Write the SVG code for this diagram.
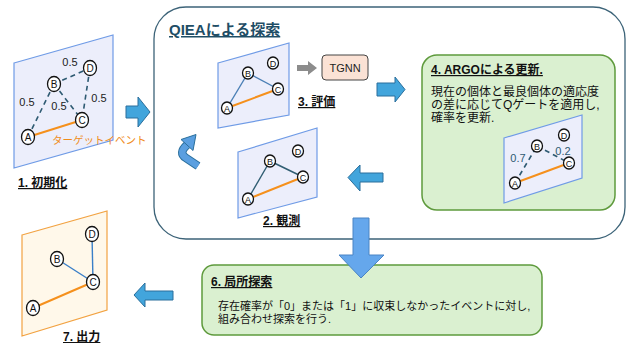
<svg xmlns="http://www.w3.org/2000/svg" width="627" height="343" viewBox="0 0 627 343">
<defs>
<style>
text{font-family:'Liberation Sans','Noto Sans CJK JP',sans-serif;}
.panel{fill:#eceefb;stroke:#6f9be6;stroke-width:1.2;}
.out{fill:#fff8ea;stroke:#f2a241;stroke-width:1.2;}
.nd{fill:#fff;stroke:#111;stroke-width:1.3;}
.nl{font-size:10px;fill:#111;text-anchor:middle;}
.ns{font-size:9px;fill:#111;text-anchor:middle;}
.dash{stroke:#2e5a72;stroke-width:1.6;stroke-dasharray:5 4;fill:none;}
.or{stroke:#f5901c;stroke-width:2;fill:none;}
.wt{font-size:11px;fill:#222;text-anchor:middle;}
.step{font-size:12px;font-weight:bold;fill:#111;text-decoration:underline;}
.body{font-size:12px;fill:#111;}
.arr{fill:#42a5dc;stroke:#2a6f9c;stroke-width:1;}
.gbox{fill:#daf0d0;stroke:#5e9a3c;stroke-width:1.5;}
</style>
</defs>

<g id="qiea-frame">
<rect x="154" y="7" width="471" height="232" rx="32" fill="#fff" stroke="#3c6378" stroke-width="1.3"/>
<text x="169" y="35" font-size="15" font-weight="bold" fill="#1f4e66" text-decoration="underline">QIEAによる探索</text>
</g>

<g id="step1-init">
<polygon class="panel" points="14,63 113,35 113,140 14,168"/>
<line class="dash" x1="28" y1="137" x2="54" y2="84"/>
<line class="dash" x1="54" y1="84" x2="90" y2="68"/>
<line class="dash" x1="54" y1="84" x2="82" y2="120"/>
<line class="dash" x1="90" y1="68" x2="82" y2="120"/>
<line class="or" x1="28" y1="137" x2="82" y2="120" stroke-width="2.2"/>
<ellipse class="nd" cx="28" cy="137" rx="6.5" ry="7.5"/><text class="nl" x="28" y="141">A</text>
<ellipse class="nd" cx="54" cy="84" rx="6.5" ry="7.5"/><text class="nl" x="54" y="88">B</text>
<ellipse class="nd" cx="82" cy="120" rx="6.5" ry="7.5"/><text class="nl" x="82" y="124">C</text>
<ellipse class="nd" cx="90" cy="68" rx="6.5" ry="7.5"/><text class="nl" x="90" y="72">D</text>
<text class="wt" x="70" y="66">0.5</text>
<text class="wt" x="27" y="106">0.5</text>
<text class="wt" x="59" y="110">0.5</text>
<text class="wt" x="99" y="102">0.5</text>
<text x="52" y="144" font-size="10.5" fill="#f08c1a">ターゲットイベント</text>
<text class="step" x="18" y="187">1. 初期化</text>
</g>

<g id="step3-eval">
<polygon class="panel" points="218,63 289,43 289,115 218,128"/>
<line x1="227" y1="108" x2="248" y2="73" stroke="#4a7fb5" stroke-width="1.4"/>
<line x1="248" y1="73" x2="278" y2="89" stroke="#4a7fb5" stroke-width="1.4"/>
<line class="or" x1="227" y1="108" x2="278" y2="89"/>
<ellipse class="nd" cx="227" cy="108" rx="5.5" ry="6"/><text class="ns" x="227" y="111.5">A</text>
<ellipse class="nd" cx="248" cy="73" rx="5.5" ry="6"/><text class="ns" x="248" y="76.5">B</text>
<ellipse class="nd" cx="278" cy="89" rx="5.5" ry="6"/><text class="ns" x="278" y="92.5">C</text>
<ellipse class="nd" cx="273" cy="63" rx="5.5" ry="6"/><text class="ns" x="273" y="66.5">D</text>
<text class="step" x="298" y="106">3. 評価</text>
</g>

<g id="tgnn">
<rect x="322" y="55" width="46" height="25" rx="4" fill="#fbe2d5" stroke="#444" stroke-width="1"/>
<text x="345" y="71.5" font-size="11" fill="#222" text-anchor="middle">TGNN</text>
</g>

<g id="step2-obs">
<polygon class="panel" points="238,152 317,128 317,197 238,218"/>
<line x1="248" y1="199" x2="270" y2="161" stroke="#2f5d72" stroke-width="1.4"/>
<line x1="270" y1="161" x2="303" y2="177" stroke="#2f5d72" stroke-width="1.4"/>
<line class="or" x1="248" y1="199" x2="303" y2="177"/>
<ellipse class="nd" cx="248" cy="199" rx="5.5" ry="6"/><text class="ns" x="248" y="202.5">A</text>
<ellipse class="nd" cx="270" cy="161" rx="5.5" ry="6"/><text class="ns" x="270" y="164.5">B</text>
<ellipse class="nd" cx="303" cy="177" rx="5.5" ry="6"/><text class="ns" x="303" y="180.5">C</text>
<ellipse class="nd" cx="298" cy="151" rx="5.5" ry="6"/><text class="ns" x="298" y="154.5">D</text>
<text class="step" x="263" y="225">2. 観測</text>
</g>

<g id="step4-argo">
<rect class="gbox" x="422" y="55" width="193" height="155" rx="15"/>
<text class="step" x="431" y="74">4. ARGOによる更新.</text>
<text class="body" x="431" y="96">現在の個体と最良個体の適応度</text>
<text class="body" x="431" y="109">の差に応じてQゲートを適用し,</text>
<text class="body" x="431" y="122">確率を更新.</text>
<polygon class="panel" points="504,138 582,115 582,178 504,203"/>
<line class="dash" x1="515" y1="183" x2="537" y2="146"/>
<line class="dash" x1="537" y1="146" x2="569" y2="163"/>
<line class="or" x1="515" y1="183" x2="569" y2="163"/>
<ellipse class="nd" cx="515" cy="183" rx="5.5" ry="6"/><text class="ns" x="515" y="186.5">A</text>
<ellipse class="nd" cx="537" cy="146" rx="5.5" ry="6"/><text class="ns" x="537" y="149.5">B</text>
<ellipse class="nd" cx="569" cy="163" rx="5.5" ry="6"/><text class="ns" x="569" y="166.5">C</text>
<ellipse class="nd" cx="564" cy="135" rx="5.5" ry="6"/><text class="ns" x="564" y="138.5">D</text>
<text x="518" y="162" font-size="11" fill="#2e5a72" text-anchor="middle">0.7</text>
<text x="563" y="155" font-size="11" fill="#2e5a72" text-anchor="middle">0.2</text>
</g>

<g id="step6-local">
<rect class="gbox" x="202" y="265" width="340" height="70" rx="12"/>
<text class="step" x="211" y="286" font-size="13">6. 局所探索</text>
<text x="218" y="310" font-size="11" fill="#111">存在確率が「0」または「1」に収束しなかったイベントに対し,</text>
<text x="218" y="323" font-size="11" fill="#111">組み合わせ探索を行う.</text>
</g>

<g id="step7-output">
<polygon class="out" points="22,235 107,211 107,310 22,336"/>
<line x1="57" y1="259" x2="93" y2="282" stroke="#3a7fc8" stroke-width="1.4"/>
<line x1="92" y1="234" x2="93" y2="282" stroke="#3a7fc8" stroke-width="1.4"/>
<line class="or" x1="33" y1="308" x2="93" y2="282" stroke-width="2.4"/>
<ellipse class="nd" cx="33" cy="308" rx="6.5" ry="7.5"/><text class="nl" x="33" y="312">A</text>
<ellipse class="nd" cx="57" cy="259" rx="6.5" ry="7.5"/><text class="nl" x="57" y="263">B</text>
<ellipse class="nd" cx="93" cy="282" rx="6.5" ry="7.5"/><text class="nl" x="93" y="286">C</text>
<ellipse class="nd" cx="92" cy="234" rx="6.5" ry="7.5"/><text class="nl" x="92" y="238">D</text>
<text class="step" x="63" y="341">7. 出力</text>
</g>

<g id="connectors">
<polygon class="arr" points="126,106 138,106 138,97 150,112 138,127 138,118 126,118"/>
<polygon fill="#8c8c8c" points="297,65 308,65 308,61 317,68 308,75 308,71 297,71"/>
<polygon class="arr" points="377,83 395,83 395,77 405,89.5 395,102 395,96 377,96"/>
<polygon class="arr" points="383,173 360,173 360,165 348,177.5 360,191 360,182 383,182"/>
<polygon class="arr" points="173,291 145,291 145,283 134,295 145,307 145,300 173,300"/>
<polygon fill="#65a7ec" stroke="#4a84c4" stroke-width="1" points="353,218 369,218 369,255 384,255 361,278 339,255 353,255"/>
<path d="M187 145 Q178 153 186 158 L198 166" fill="none" stroke="#2a6f9c" stroke-width="8.5" stroke-linejoin="round"/>
<path d="M187 145 Q178 153 186 158 L198 166" fill="none" stroke="#5a9fe0" stroke-width="6.5" stroke-linejoin="round"/>
<polygon fill="#5a9fe0" stroke="#2a6f9c" stroke-width="1" points="181,139.5 196,134.5 193,150.5"/>
</g>
</svg>
